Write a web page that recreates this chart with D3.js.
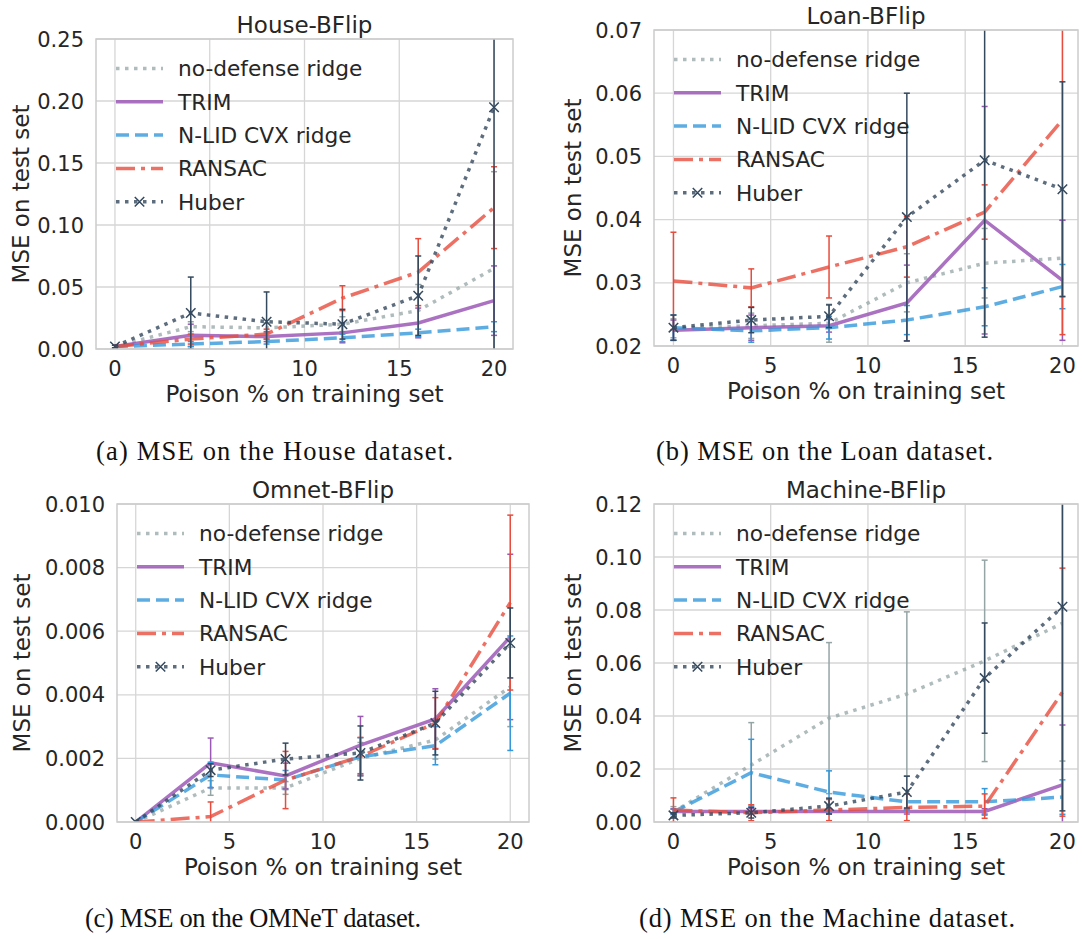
<!DOCTYPE html>
<html lang="en">
<head>
<meta charset="UTF-8">
<title>MSE under BFlip poisoning</title>
<script src="https://d3js.org/d3.v7.min.js"></script>
<style>
  body { margin: 0; background: #fff; }
  svg { display: block; font-family: "DejaVu Sans", sans-serif; }
  .grid line { stroke: #d6d6d6; stroke-width: 1.3; }
  .frame { fill: none; stroke: #cccccc; stroke-width: 1.5; }
  .tick-label { font-size: 21px; fill: #262626; }
  .axis-label { font-size: 23px; fill: #262626; }
  .title { font-size: 23px; fill: #262626; }
  .legend text { font-size: 21.7px; fill: #262626; }
  .caption { font-family: "Liberation Serif", serif; font-size: 26.5px; fill: #111; }
</style>
</head>
<body>
<svg id="chart" width="1082" height="939"></svg>
<script>
// x values shared by every panel
const poison = [0, 4, 8, 12, 16, 20];
const seriesNames = ["no-defense ridge", "TRIM", "N-LID CVX ridge", "RANSAC", "Huber"];

// rows follow seriesNames
const houseMean = [
  [0.002, 0.018, 0.017, 0.020, 0.031, 0.065],
  [0.002, 0.011, 0.010, 0.013, 0.021, 0.039],
  [0.002, 0.004, 0.006, 0.009, 0.013, 0.018],
  [0.002, 0.008, 0.012, 0.041, 0.062, 0.114],
  [0.002, 0.029, 0.022, 0.020, 0.043, 0.195]
];
const houseErr = [
  [0.001, 0.004, 0.004, 0.006, 0.021, 0.078],
  [0.001, 0.009, 0.004, 0.008, 0.012, 0.028],
  [0.001, 0.002, 0.002, 0.003, 0.003, 0.004],
  [0.001, 0.004, 0.004, 0.010, 0.027, 0.033],
  [0.001, 0.029, 0.024, 0.012, 0.032, 0.200]
];

const loanMean = [
  [0.0228, 0.0232, 0.0236, 0.0300, 0.0331, 0.0339],
  [0.0225, 0.0229, 0.0232, 0.0268, 0.0399, 0.0304],
  [0.0229, 0.0224, 0.0229, 0.0241, 0.0262, 0.0294],
  [0.0303, 0.0292, 0.0325, 0.0357, 0.0412, 0.0558],
  [0.0229, 0.0241, 0.0247, 0.0404, 0.0494, 0.0448]
];
const loanErr = [
  [0.0015, 0.0020, 0.0030, 0.0046, 0.0055, 0.0060],
  [0.0016, 0.0020, 0.0010, 0.0060, 0.0180, 0.0095],
  [0.0020, 0.0018, 0.0018, 0.0023, 0.0030, 0.0035],
  [0.0077, 0.0030, 0.0049, 0.0048, 0.0043, 0.0340],
  [0.0020, 0.0020, 0.0018, 0.0196, 0.0280, 0.0170]
];

const omnetMean = [
  [0, 0.00107, 0.00107, 0.00200, 0.00258, 0.00425],
  [0, 0.00186, 0.00145, 0.00242, 0.00324, 0.00582],
  [0, 0.00148, 0.00132, 0.00205, 0.00240, 0.00405],
  [0, 0.00017, 0.00132, 0.00206, 0.00311, 0.00690],
  [0, 0.00163, 0.00198, 0.00217, 0.00311, 0.00563]
];
const omnetErr = [
  [0, 0.00023, 0.00020, 0.00050, 0.00060, 0.00125],
  [0, 0.00078, 0.00040, 0.00090, 0.00095, 0.00260],
  [0, 0.00040, 0.00030, 0.00060, 0.00060, 0.00180],
  [0, 0.00046, 0.00090, 0.00060, 0.00080, 0.00275],
  [0, 0.00020, 0.00050, 0.00085, 0.00100, 0.00110]
];

const machineMean = [
  [0.0038, 0.0215, 0.0392, 0.0483, 0.0608, 0.0750],
  [0.0040, 0.0040, 0.0040, 0.0040, 0.0040, 0.0140],
  [0.0038, 0.0186, 0.0113, 0.0076, 0.0076, 0.0094],
  [0.0045, 0.0035, 0.0045, 0.0055, 0.0060, 0.0490],
  [0.0025, 0.0035, 0.0060, 0.0113, 0.0543, 0.0812]
];
const machineErr = [
  [0.0020, 0.0160, 0.0285, 0.0310, 0.0380, 0.0520],
  [0.0010, 0.0010, 0.0010, 0.0010, 0.0010, 0.0226],
  [0.0010, 0.0126, 0.0080, 0.0030, 0.0050, 0.0065],
  [0.0046, 0.0030, 0.0040, 0.0050, 0.0046, 0.0468],
  [0.0010, 0.0020, 0.0030, 0.0060, 0.0208, 0.0770]
];

const houseTicks = [0, 0.05, 0.10, 0.15, 0.20, 0.25];
const loanTicks = [0.02, 0.03, 0.04, 0.05, 0.06, 0.07];
const omnetTicks = [0, 0.002, 0.004, 0.006, 0.008, 0.010];
const machineTicks = [0, 0.02, 0.04, 0.06, 0.08, 0.10, 0.12];
const xTicks = [0, 5, 10, 15, 20];

// line look per series (seaborn flat palette)
const styles = [
  { color: "#95a5a6", dash: "3.5,5.5", opacity: 0.75 },
  { color: "#9b59b6", dash: null, opacity: 0.85 },
  { color: "#3498db", dash: "13,6", opacity: 0.8 },
  { color: "#e74c3c", dash: "19,6,4,6", opacity: 0.8 },
  { color: "#34495e", dash: "3.5,5.5", opacity: 0.8, marker: true }
];

const panels = [
  { id: "a", title: "House-BFlip", caption: "(a) MSE on the House dataset.",
    mean: houseMean, err: houseErr, ticks: houseTicks, fmt: d3.format(".2f"),
    left: 96, top: 39, right: 513, bottom: 349, xmax: 21, yLabX: 29,
    capX: 96, capY: 460, capW: 357 },
  { id: "b", title: "Loan-BFlip", caption: "(b) MSE on the Loan dataset.",
    mean: loanMean, err: loanErr, ticks: loanTicks, fmt: d3.format(".2f"),
    left: 654, top: 30, right: 1078, bottom: 346, xmax: 20.8, yLabX: 581,
    capX: 656, capY: 460, capW: 337 },
  { id: "c", title: "Omnet-BFlip", caption: "(c) MSE on the OMNeT dataset.",
    mean: omnetMean, err: omnetErr, ticks: omnetTicks, fmt: d3.format(".3f"),
    left: 117, top: 504, right: 529, bottom: 822, xmax: 21, yLabX: 30,
    capX: 85, capY: 927, capW: 336 },
  { id: "d", title: "Machine-BFlip", caption: "(d) MSE on the Machine dataset.",
    mean: machineMean, err: machineErr, ticks: machineTicks, fmt: d3.format(".2f"),
    left: 654, top: 504, right: 1078, bottom: 822, xmax: 20.8, yLabX: 581,
    capX: 639, capY: 927, capW: 376 }
];

const svg = d3.select("#chart");

panels.forEach(p => {
  const x = d3.scaleLinear().domain([-1, p.xmax]).range([p.left, p.right]);
  const y = d3.scaleLinear().domain([p.ticks[0], p.ticks[p.ticks.length - 1]]).range([p.bottom, p.top]);
  const g = svg.append("g");

  g.append("clipPath").attr("id", "clip-" + p.id)
    .append("rect")
    .attr("x", p.left).attr("y", p.top)
    .attr("width", p.right - p.left).attr("height", p.bottom - p.top);

  // grid
  const grid = g.append("g").attr("class", "grid");
  grid.selectAll(".gx").data(xTicks).enter().append("line")
    .attr("x1", d => x(d)).attr("x2", d => x(d))
    .attr("y1", p.top).attr("y2", p.bottom);
  grid.selectAll(".gy").data(p.ticks).enter().append("line")
    .attr("x1", p.left).attr("x2", p.right)
    .attr("y1", d => y(d)).attr("y2", d => y(d));

  // tick labels
  g.selectAll(".xt").data(xTicks).enter().append("text")
    .attr("class", "tick-label")
    .attr("x", d => x(d)).attr("y", p.bottom + 27)
    .attr("text-anchor", "middle")
    .text(d => d);
  g.selectAll(".yt").data(p.ticks).enter().append("text")
    .attr("class", "tick-label")
    .attr("x", p.left - 12).attr("y", d => y(d))
    .attr("dy", "0.36em")
    .attr("text-anchor", "end")
    .text(d => p.fmt(d));

  // axis labels + title
  g.append("text").attr("class", "axis-label")
    .attr("x", (p.left + p.right) / 2).attr("y", p.bottom + 53)
    .attr("text-anchor", "middle")
    .text("Poison % on training set");
  g.append("text").attr("class", "axis-label")
    .attr("transform", `translate(${p.yLabX},${(p.top + p.bottom) / 2}) rotate(-90)`)
    .attr("text-anchor", "middle")
    .text("MSE on test set");
  g.append("text").attr("class", "title")
    .attr("x", (p.left + p.right) / 2).attr("y", p.top - 6)
    .attr("text-anchor", "middle")
    .text(p.title);

  // series
  const plot = g.append("g").attr("clip-path", `url(#clip-${p.id})`);
  const line = d3.line().x((d, i) => x(poison[i])).y(d => y(d));

  p.mean.forEach((vals, s) => {
    const st = styles[s];
    const eb = plot.append("g").attr("stroke", st.color).attr("stroke-width", 1.5);
    vals.forEach((v, i) => {
      const e = p.err[s][i];
      if (!e) return;
      const cx = x(poison[i]);
      eb.append("line").attr("x1", cx).attr("x2", cx).attr("y1", y(v - e)).attr("y2", y(v + e));
      [v - e, v + e].forEach(t => {
        eb.append("line").attr("x1", cx - 3).attr("x2", cx + 3).attr("y1", y(t)).attr("y2", y(t));
      });
    });

    plot.append("path")
      .datum(vals)
      .attr("d", line)
      .attr("fill", "none")
      .attr("stroke", st.color)
      .attr("stroke-opacity", st.opacity)
      .attr("stroke-width", 3.5)
      .attr("stroke-dasharray", st.dash);

    if (st.marker) {
      plot.selectAll(null).data(vals).enter().append("path")
        .attr("d", d3.symbol(d3.symbolX, 60))
        .attr("transform", (d, i) => `translate(${x(poison[i])},${y(d)})`)
        .attr("fill", "none")
        .attr("stroke", st.color)
        .attr("stroke-width", 1.5);
    }
  });

  g.append("rect").attr("class", "frame")
    .attr("x", p.left).attr("y", p.top)
    .attr("width", p.right - p.left).attr("height", p.bottom - p.top);

  // legend
  const leg = g.append("g").attr("class", "legend");
  seriesNames.forEach((name, s) => {
    const st = styles[s];
    const ly = p.top + 29.5 + s * 33.3;
    leg.append("line")
      .attr("x1", p.left + 20).attr("x2", p.left + 67)
      .attr("y1", ly).attr("y2", ly)
      .attr("stroke", st.color)
      .attr("stroke-opacity", st.opacity)
      .attr("stroke-width", 3.5)
      .attr("stroke-dasharray", st.dash);
    if (st.marker) {
      leg.append("path")
        .attr("d", d3.symbol(d3.symbolX, 60))
        .attr("transform", `translate(${p.left + 43.5},${ly})`)
        .attr("fill", "none").attr("stroke", st.color).attr("stroke-width", 1.5);
    }
    leg.append("text")
      .attr("x", p.left + 82).attr("y", ly)
      .attr("dy", "0.36em")
      .text(name);
  });

  svg.append("text").attr("class", "caption")
    .attr("x", p.capX).attr("y", p.capY)
    .attr("textLength", p.capW)
    .attr("lengthAdjust", "spacing")
    .text(p.caption);
});
</script>
</body>
</html>
